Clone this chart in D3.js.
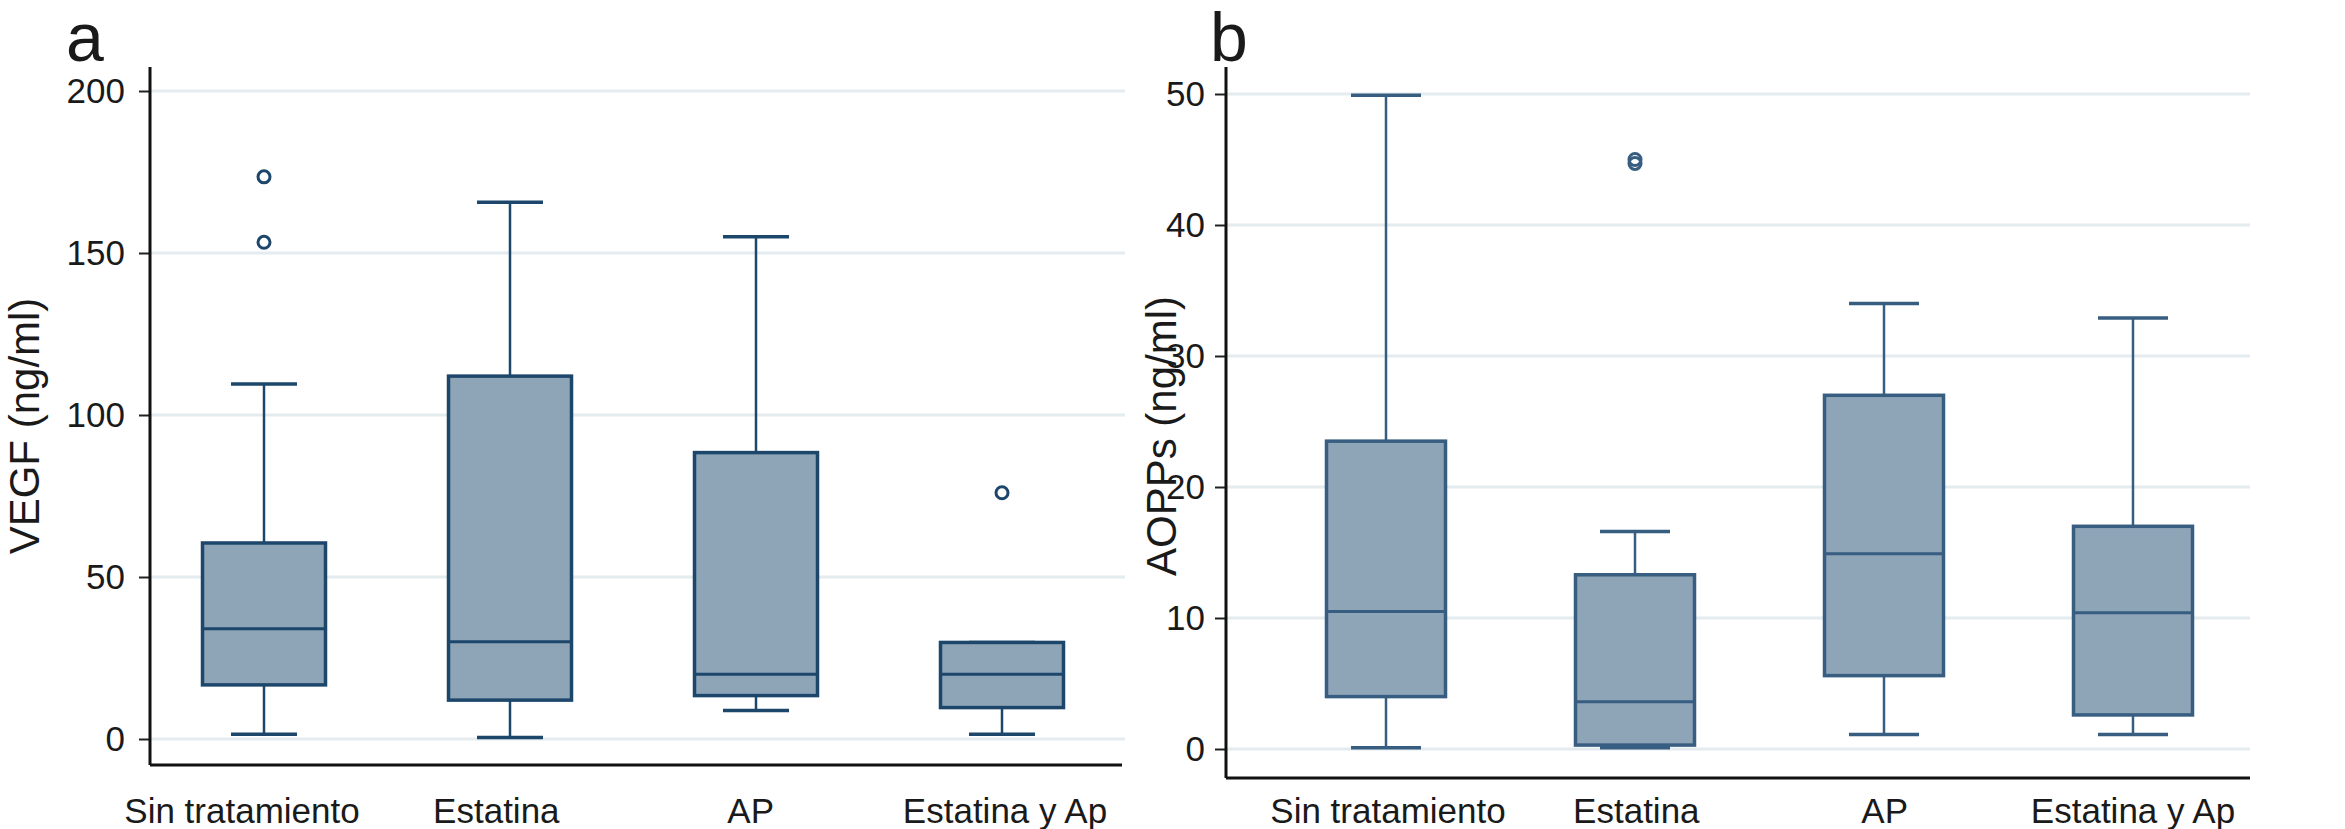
<!DOCTYPE html>
<html>
<head>
<meta charset="utf-8">
<script src="https://cdn.jsdelivr.net/npm/d3@7"></script>
<style>
  body { margin: 0; background: #fff; }
  svg { display: block; }
  text { font-family: "Liberation Sans", Arial, Helvetica, sans-serif; fill: #1a1a1a; }
</style>
</head>
<body>
<div id="chart"></div>
<script>
const categories = ["Sin tratamiento", "Estatina", "AP", "Estatina y Ap"];

// panel a : VEGF (ng/ml)
const vegfLow = [1.5, 0.5, 8.8, 1.5];
const vegfQ1 = [16.7, 12, 13.4, 9.7];
const vegfMedian = [34, 30, 20, 20];
const vegfQ3 = [60.5, 112, 88.4, 29.8];
const vegfHigh = [109.6, 165.7, 155, 29.8];
const vegfOutliers = [[173.5, 153.3], [], [], [76]];
const vegfTicks = [0, 50, 100, 150, 200];

// panel b : AOPPs (ng/ml)
const aoppsLow = [0.1, 0.1, 1.1, 1.1];
const aoppsQ1 = [4.0, 0.3, 5.6, 2.6];
const aoppsMedian = [10.5, 3.6, 14.9, 10.4];
const aoppsQ3 = [23.5, 13.3, 27, 17];
const aoppsHigh = [49.9, 16.6, 34, 32.9];
const aoppsOutliers = [[], [44.7, 45.0], [], []];
const aoppsTicks = [0, 10, 20, 30, 40, 50];

const width = 2345, height = 829;
const FILL = '#8ea5b8';
const STROKE_A = '#1d466b';
const STROKE_B = '#375d80';
const GRID = '#e4ecef';

const svg = d3.select('#chart')
  .append('svg')
  .attr('width', width)
  .attr('height', height);

function makeData(low, q1, med, q3, high, outl) {
  return categories.map((c, i) => ({
    cat: c, low: low[i], q1: q1[i], med: med[i], q3: q3[i], high: high[i], out: outl[i]
  }));
}

function drawPanel(p) {
  const g = svg.append('g');

  const y = d3.scaleLinear().domain(p.domain).range([p.y0, p.y1]);
  const x = d3.scalePoint().domain(categories).range(p.xRange);
  // category labels sit on their own spread
  const xl = d3.scalePoint().domain(categories).range(p.labelRange);

  // grid
  g.selectAll('line.grid')
    .data(p.ticks)
    .enter()
    .append('line')
    .attr('class', 'grid')
    .attr('x1', p.left)
    .attr('x2', p.gridRight)
    .attr('y1', d => y(d))
    .attr('y2', d => y(d))
    .attr('stroke', GRID)
    .attr('stroke-width', 3);

  // y axis
  const yAxis = d3.axisLeft(y)
    .tickValues(p.ticks)
    .tickSize(11)
    .tickPadding(p.tickPad)
    .tickFormat(d3.format('d'));

  const ya = g.append('g')
    .attr('transform', `translate(${p.left},0)`)
    .call(yAxis);
  ya.select('.domain').remove();
  ya.selectAll('.tick line').attr('stroke', '#222').attr('stroke-width', 2);
  ya.selectAll('.tick text')
    .style('font-size', '35px')
    .style('font-family', '"Liberation Sans", Arial, sans-serif')
    .attr('fill', '#1a1a1a');

  g.append('line')
    .attr('x1', p.left).attr('x2', p.left)
    .attr('y1', p.top).attr('y2', p.bottom)
    .attr('stroke', '#111').attr('stroke-width', 3);

  g.append('line')
    .attr('x1', p.left).attr('x2', p.right)
    .attr('y1', p.bottom).attr('y2', p.bottom)
    .attr('stroke', '#111').attr('stroke-width', 3);

  const data = makeData(p.low, p.q1, p.med, p.q3, p.high, p.out);
  const bw = p.boxWidth;
  const cw = p.capWidth;

  const box = g.selectAll('g.box')
    .data(data)
    .enter()
    .append('g')
    .attr('class', 'box');

  // whiskers
  box.append('line')
    .attr('x1', d => x(d.cat)).attr('x2', d => x(d.cat))
    .attr('y1', d => y(d.q3)).attr('y2', d => y(d.high))
    .attr('stroke', p.stroke).attr('stroke-width', 2.5);
  box.append('line')
    .attr('x1', d => x(d.cat)).attr('x2', d => x(d.cat))
    .attr('y1', d => y(d.q1)).attr('y2', d => y(d.low))
    .attr('stroke', p.stroke).attr('stroke-width', 2.5);

  // caps
  box.append('line')
    .attr('x1', d => x(d.cat) - cw / 2).attr('x2', d => x(d.cat) + cw / 2)
    .attr('y1', d => y(d.high)).attr('y2', d => y(d.high))
    .attr('stroke', p.stroke).attr('stroke-width', 3.5);
  box.append('line')
    .attr('x1', d => x(d.cat) - cw / 2).attr('x2', d => x(d.cat) + cw / 2)
    .attr('y1', d => y(d.low)).attr('y2', d => y(d.low))
    .attr('stroke', p.stroke).attr('stroke-width', 3.5);

  // box
  box.append('rect')
    .attr('x', d => x(d.cat) - bw / 2)
    .attr('y', d => y(d.q3))
    .attr('width', bw)
    .attr('height', d => y(d.q1) - y(d.q3))
    .attr('fill', FILL)
    .attr('stroke', p.stroke)
    .attr('stroke-width', 3.5);

  // median
  box.append('line')
    .attr('x1', d => x(d.cat) - bw / 2).attr('x2', d => x(d.cat) + bw / 2)
    .attr('y1', d => y(d.med)).attr('y2', d => y(d.med))
    .attr('stroke', p.stroke).attr('stroke-width', 3);

  // outliers
  box.selectAll('circle')
    .data(d => d.out.map(v => ({ cat: d.cat, v: v })))
    .enter()
    .append('circle')
    .attr('cx', d => x(d.cat))
    .attr('cy', d => y(d.v))
    .attr('r', 6)
    .attr('fill', 'none')
    .attr('stroke', p.stroke)
    .attr('stroke-width', 3);

  // category labels
  g.selectAll('text.cat')
    .data(categories)
    .enter()
    .append('text')
    .attr('class', 'cat')
    .attr('x', d => xl(d))
    .attr('y', 823)
    .attr('text-anchor', 'middle')
    .style('font-size', '35px')
    .text(d => d);

  // y title
  g.append('text')
    .attr('transform', `translate(${p.titleX},${p.titleY}) rotate(-90)`)
    .attr('text-anchor', 'middle')
    .style('font-size', '42px')
    .text(p.title);

  // panel letter
  g.append('text')
    .attr('x', p.letterX)
    .attr('y', 61)
    .style('font-size', '68px')
    .text(p.letter);
}

drawPanel({
  letter: 'a', letterX: 66,
  title: 'VEGF (ng/ml)', titleX: 39, titleY: 426,
  domain: [0, 200], y0: 739, y1: 91, ticks: vegfTicks, tickPad: 14,
  left: 150, right: 1122, gridRight: 1125, top: 67, bottom: 765,
  xRange: [264, 1002], labelRange: [242, 1005], boxWidth: 123, capWidth: 66,
  stroke: STROKE_A,
  low: vegfLow, q1: vegfQ1, med: vegfMedian, q3: vegfQ3, high: vegfHigh, out: vegfOutliers
});

drawPanel({
  letter: 'b', letterX: 1210,
  title: 'AOPPs (ng/ml)', titleX: 1176, titleY: 436,
  domain: [0, 50], y0: 749, y1: 94, ticks: aoppsTicks, tickPad: 10,
  left: 1226, right: 2250, gridRight: 2250, top: 67, bottom: 778,
  xRange: [1386, 2133], labelRange: [1388, 2133], boxWidth: 119, capWidth: 70,
  stroke: STROKE_B,
  low: aoppsLow, q1: aoppsQ1, med: aoppsMedian, q3: aoppsQ3, high: aoppsHigh, out: aoppsOutliers
});
</script>
</body>
</html>
